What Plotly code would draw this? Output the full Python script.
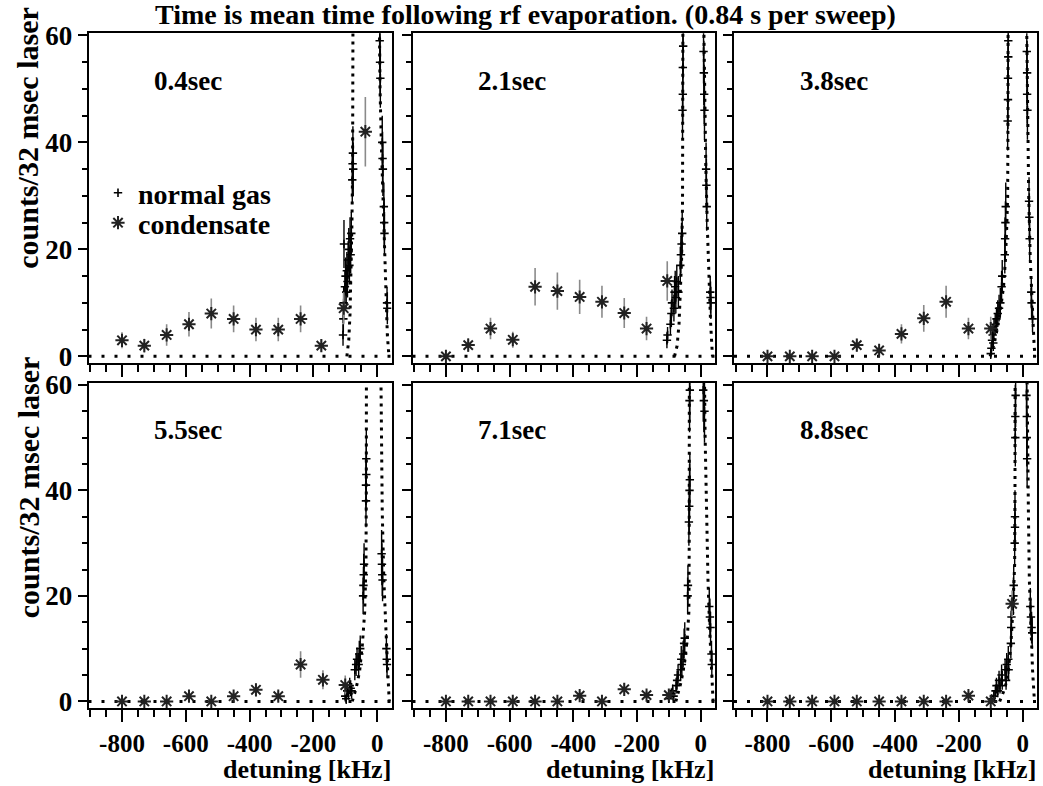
import plotly.graph_objects as go

# ---------------------------------------------------------------------------
# Data: detuning [kHz], counts/32 msec laser, one-sigma errors
# ---------------------------------------------------------------------------
panel_labels = ["0.4sec", "2.1sec", "3.8sec", "5.5sec", "7.1sec", "8.8sec"]

# --- 0.4 sec ---
cond_x_1 = [-800, -730, -660, -590, -520, -450, -380, -310, -240, -175, -105, -37]
cond_y_1 = [3, 2, 4, 6, 8, 7, 5, 5, 7, 2, 9, 42]
cond_e_1 = [1.5, 1.3, 2, 2.3, 2.8, 2.5, 2.2, 2.2, 2.5, 1.2, 3, 6.5]
gas_x_1 = [-107, -106, -105, -104, -101, -99, -97, -95, -93, -91, -89, -87, -85, -83, -81,
           -78, -77, -76, -75, 8, 9, 10, 16, 17, 18, 21, 22, 23, 31, 32]
gas_y_1 = [4, 7, 10, 21, 13, 15, 12, 16, 14, 18, 20, 17, 22, 19, 23,
           33, 36, 38, 35, 59, 55, 52, 40, 37, 35, 28, 25, 23, 10, 9]
gas_e_1 = [2, 2.5, 3, 4.5, 3, 3.5, 3, 3.5, 3, 3.5, 4, 3.5, 4, 3.5, 4,
           4.5, 5, 5, 5, 6, 6, 5.5, 5, 5, 5, 4.5, 4.5, 4, 3, 3]
fit_x_1 = [-95, -89, -85, -82, -79, -77, -76, -75.5, 6, 9, 14, 19, 24, 28, 32, 37]
fit_y_1 = [0, 3, 8, 15, 25, 35, 48, 70, 70, 50, 38, 28, 18, 10, 4, 0]

# --- 2.1 sec ---
cond_x_2 = [-800, -730, -660, -590, -520, -450, -380, -310, -240, -170, -105]
cond_y_2 = [0, 2.1, 5.2, 3.1, 13, 12.2, 11.1, 10.2, 8.1, 5.2, 14.1]
cond_e_2 = [0.5, 1.3, 2, 1.5, 3.5, 3.5, 3.2, 3, 2.8, 2.2, 3.7]
gas_x_2 = [-106, -104, -95, -92, -90, -84, -82, -80, -78, -75, -70, -64, -62, -60, -58,
           -57, -56, -56, -55, 9, 10, 11, 12, 17, 18, 19, 30, 31, 32]
gas_y_2 = [3, 4, 6, 8, 10, 9, 12, 13, 11, 14, 12, 17, 19, 21, 23,
           46, 49, 54, 58, 57, 53, 49, 46, 35, 32, 28, 12, 11, 10]
gas_e_2 = [1.5, 1.5, 2, 2.5, 2.5, 2.5, 3, 3, 3, 3, 3, 3.5, 3.5, 4, 4,
           5.5, 5.5, 6, 6, 6, 6, 5.5, 5.5, 5, 5, 4.5, 3, 3, 3]
fit_x_2 = [-82, -74, -68, -63, -60, -57, -56, -55.5, 8, 12, 16, 21, 26, 31, 37]
fit_y_2 = [0, 2, 6, 12, 18, 28, 40, 70, 70, 48, 36, 24, 13, 6.5, 0]

# --- 3.8 sec ---
cond_x_3 = [-800, -730, -660, -590, -520, -450, -380, -310, -240, -170, -100]
cond_y_3 = [0, 0, 0, 0, 2.1, 1.1, 4.2, 7.1, 10.2, 5.2, 5.2]
cond_e_3 = [0.5, 0.5, 0.5, 0.5, 1.2, 0.8, 1.8, 2.5, 3, 2, 2.2]
gas_x_3 = [-100, -98, -96, -94, -92, -90, -86, -82, -78, -74, -70, -66, -64, -56, -55,
           -54, -53, -47, -46, -46, -45, -45, 13, 14, 14, 15, 20, 21, 22, 27, 28, 31]
gas_y_3 = [0.5, 1.5, 3, 4, 2.5, 5, 6, 7, 8, 9, 10, 13, 15, 19, 22,
           25, 28, 44, 48, 52, 56, 59, 57, 53, 49, 46, 29, 26, 22, 12, 10, 7]
gas_e_3 = [1, 1.2, 1.5, 1.8, 1.5, 2, 2, 2.2, 2.5, 2.5, 2.8, 3, 3, 3.5, 4,
           4, 4.5, 5.5, 5.5, 6, 6, 6, 6, 6, 5.5, 5.5, 4.5, 4.5, 4, 3, 3, 2.5]
fit_x_3 = [-102, -91, -80, -70, -60, -54, -50, -47, -46, -45.5, 11, 15, 19, 24, 31, 36, 39]
fit_y_3 = [0, 2, 5, 8.5, 13, 18, 24, 30, 45, 70, 70, 48, 30, 18, 8, 2, 0]

# --- 5.5 sec ---
cond_x_4 = [-800, -730, -660, -590, -520, -450, -380, -310, -240, -170, -100]
cond_y_4 = [0, 0, 0, 1, 0, 1, 2.2, 1, 7, 4.1, 3.1]
cond_e_4 = [0.5, 0.5, 0.5, 0.8, 0.5, 0.8, 1.2, 1, 2.5, 1.8, 1.8]
gas_x_4 = [-100, -97, -94, -90, -86, -83, -80, -70, -66, -63, -58, -56, -53, -44, -43,
           -42, -41, -35, -35, -34, -34, 14, 15, 16, 17, 29, 30, 31]
gas_y_4 = [1, 0.5, 2, 1.5, 3, 2.5, 2, 6, 7, 8, 7, 9, 10, 20, 22,
           24, 26, 38, 41, 43, 46, 28, 26, 24, 23, 10, 8, 7]
gas_e_4 = [1, 1, 1.2, 1.2, 1.5, 1.5, 1.5, 2, 2.2, 2.2, 2.2, 2.5, 2.5, 3.5, 3.5,
           4, 4, 5, 5, 5.5, 5.5, 4.5, 4, 4, 4, 2.8, 2.5, 2.5]
fit_x_4 = [-78, -65.5, -55, -46.5, -39, -35, -34, -33.5, 10.5, 13, 16, 21, 26.4, 33, 38]
fit_y_4 = [0, 2.6, 5.7, 10.7, 17, 26, 40, 70, 70, 50, 36, 23, 14, 6, 0]

# --- 7.1 sec ---
cond_x_5 = [-800, -730, -660, -590, -520, -450, -380, -310, -240, -170, -100]
cond_y_5 = [0, 0, 0, 0, 0, 0, 1.1, 0, 2.3, 1.2, 1.2]
cond_e_5 = [0.5, 0.5, 0.5, 0.5, 0.5, 0.5, 0.8, 0.5, 1.2, 0.8, 1]
gas_x_5 = [-100, -92, -88, -85, -77, -74, -71, -63, -61, -59, -55, -52, -50, -41, -40,
           -37, -36, -35, -34, -35, -34, 8, 10, 12, 27, 29, 31, 34, 35]
gas_y_5 = [0.5, 1.5, 2, 1, 3, 4, 5, 6, 8, 7, 9, 11, 12, 20, 22,
           34, 37, 40, 42, 57, 59, 59, 57, 55, 18, 16, 14, 9, 7]
gas_e_5 = [0.8, 1, 1.2, 1, 1.5, 1.8, 2, 2, 2.5, 2.2, 2.5, 2.8, 3, 3.5, 3.8,
           4.5, 5, 5, 5, 6, 6, 6, 6, 6, 3.5, 3.5, 3, 2.5, 2.5]
fit_x_5 = [-78, -61, -50, -42, -37, -36, -35.5, 10.5, 14, 18, 23, 28, 33.6, 39]
fit_y_5 = [0, 3.8, 7.6, 12, 17, 30, 70, 70, 50, 36, 23, 14, 7.6, 0]

# --- 8.8 sec ---
cond_x_6 = [-800, -730, -660, -590, -520, -450, -380, -310, -240, -170, -100, -33]
cond_y_6 = [0, 0, 0, 0, 0, 0, 0, 0, 0, 1.1, 0, 18.5]
cond_e_6 = [0.5, 0.5, 0.5, 0.5, 0.5, 0.5, 0.5, 0.5, 0.5, 0.8, 0.5, 2.5]
gas_x_6 = [-97, -90, -85, -82, -78, -74, -71, -66, -64, -55, -52, -50, -45, -44, -37,
           -36, -35, -29, -28, -25, -24, -24, -23, -23, -22, 12, 13, 13, 14, 24, 26, 28, 30]
gas_y_6 = [0.5, 1, 2, 3, 2, 4, 3, 5, 4, 6, 4, 7, 8, 6, 11,
           14, 16, 20, 22, 30, 33, 35, 50, 54, 58, 58, 54, 50, 46, 18, 16, 14, 13]
gas_e_6 = [0.8, 1, 1.2, 1.5, 1.2, 1.8, 1.5, 2, 1.8, 2, 1.8, 2.2, 2.5, 2, 2.8,
           3.2, 3.5, 3.5, 3.8, 4.5, 4.5, 5, 5.5, 6, 6, 6, 6, 5.5, 5.5, 3.5, 3.5, 3, 3]
fit_x_6 = [-72, -55, -45, -37, -31, -25, -24, -23.5, 12.5, 15, 18, 21, 26, 31, 37]
fit_y_6 = [0, 2.6, 5.7, 10.7, 17, 26, 40, 70, 70, 50, 36, 23, 14, 6, 0]

x_ticks = [-800, -600, -400, -200, 0]
y_ticks = [0, 20, 40, 60]

panels = [
    (cond_x_1, cond_y_1, cond_e_1, gas_x_1, gas_y_1, gas_e_1, fit_x_1, fit_y_1),
    (cond_x_2, cond_y_2, cond_e_2, gas_x_2, gas_y_2, gas_e_2, fit_x_2, fit_y_2),
    (cond_x_3, cond_y_3, cond_e_3, gas_x_3, gas_y_3, gas_e_3, fit_x_3, fit_y_3),
    (cond_x_4, cond_y_4, cond_e_4, gas_x_4, gas_y_4, gas_e_4, fit_x_4, fit_y_4),
    (cond_x_5, cond_y_5, cond_e_5, gas_x_5, gas_y_5, gas_e_5, fit_x_5, fit_y_5),
    (cond_x_6, cond_y_6, cond_e_6, gas_x_6, gas_y_6, gas_e_6, fit_x_6, fit_y_6),
]

# ---------------------------------------------------------------------------
# Figure geometry (pixels) and styles
# ---------------------------------------------------------------------------
W, H = 1043, 786
FONT = "Liberation Serif, Times New Roman, serif"
col_px = [(88.5, 391.5), (412.5, 715.0), (734.0, 1037.0)]
row_px = [(33.3, 363.3), (382.7, 708.3)]
X_RANGE = [-905, 45]
Y_RANGE = [-1.3, 60.4]

fig = go.Figure()
legend_common = dict(xanchor="left", yanchor="middle", bgcolor="rgba(0,0,0,0)",
                     font=dict(family=FONT, size=28, color="black", weight="bold"))
layout = dict(
    width=W, height=H,
    margin=dict(l=0, r=0, t=0, b=0, autoexpand=False),
    paper_bgcolor="white", plot_bgcolor="white",
    font=dict(family=FONT, color="black", size=26, weight="bold"),
    showlegend=True,
    legend=dict(legend_common, x=98 / W, y=1 - 193 / H),
    legend2=dict(legend_common, x=98 / W, y=1 - 223 / H),
)
annotations = []
shapes = []

for i, (cx, cy, ce, gx, gy, ge, fx, fy) in enumerate(panels):
    r, c = divmod(i, 3)
    n = i + 1
    xa = "x" if n == 1 else f"x{n}"
    ya = "y" if n == 1 else f"y{n}"
    xd = [col_px[c][0] / W, col_px[c][1] / W]
    yd = [1 - row_px[r][1] / H, 1 - row_px[r][0] / H]

    # dotted zero level across the panel
    shapes.append(dict(type="line", xref=f"{xa} domain", yref=ya, x0=0, x1=1, y0=0, y1=0,
                       line=dict(color="black", width=3, dash="3px,10px"), layer="below"))
    # fitted line shape, dotted
    fig.add_trace(go.Scatter(
        x=fx, y=fy, xaxis=xa, yaxis=ya, mode="lines", showlegend=False,
        line=dict(color="black", width=3, dash="3px,5px"), hoverinfo="skip"))
    # normal gas
    fig.add_trace(go.Scatter(
        x=gx, y=gy, xaxis=xa, yaxis=ya, mode="markers", name="normal gas",
        showlegend=(i == 0), legend="legend",
        marker=dict(symbol="cross-thin-open", size=6, color="black",
                    line=dict(color="black", width=1.6)),
        error_y=dict(type="data", array=ge, color="black", thickness=1.4, width=0)))
    # condensate
    fig.add_trace(go.Scatter(
        x=cx, y=cy, xaxis=xa, yaxis=ya, mode="markers", name="condensate",
        showlegend=(i == 0), legend="legend2",
        marker=dict(symbol="asterisk-open", size=11, color="#222",
                    line=dict(color="#222", width=2)),
        error_y=dict(type="data", array=ce, color="#8a8a8a", thickness=1.6, width=0)))

    axis_common = dict(showline=True, linecolor="black", linewidth=1.5, mirror=True,
                       showgrid=False, zeroline=False, ticks="outside", automargin=False,
                       tickcolor="black", tickwidth=1.5)
    layout["xaxis" if n == 1 else f"xaxis{n}"] = dict(
        axis_common, domain=xd, anchor=ya, range=X_RANGE,
        tickmode="array", tickvals=x_ticks, ticktext=[str(v) for v in x_ticks],
        ticklen=12, showticklabels=(r == 1),
        tickfont=dict(family=FONT, size=25, color="black", weight="bold"),
        minor=dict(dtick=50, tick0=0, ticks="outside", ticklen=7,
                   tickcolor="black", tickwidth=1.5))
    layout["yaxis" if n == 1 else f"yaxis{n}"] = dict(
        axis_common, domain=yd, anchor=xa, range=Y_RANGE,
        tickmode="array", tickvals=y_ticks, ticktext=[str(v) for v in y_ticks],
        ticklen=9, showticklabels=(c == 0),
        tickfont=dict(family=FONT, size=27, color="black", weight="bold"),
        minor=dict(dtick=5, tick0=0, ticks="outside", ticklen=5,
                   tickcolor="black", tickwidth=1.5))

    # time stamp in each panel
    annotations.append(dict(
        x=-705, y=51.5, xref=xa, yref=ya, xanchor="left", yanchor="middle",
        text=panel_labels[i], showarrow=False,
        font=dict(family=FONT, size=27, color="black", weight="bold")))

    if r == 1:
        annotations.append(dict(
            x=col_px[c][1] / W, y=1 - 769 / H, xref="paper", yref="paper",
            xanchor="right", yanchor="middle", text="detuning [kHz]", showarrow=False,
            borderpad=0, font=dict(family=FONT, size=26, color="black", weight="bold")))

for r in range(2):
    annotations.append(dict(
        x=28 / W, y=1 - (row_px[r][0] + 104.5) / H, xref="paper", yref="paper",
        xanchor="center", yanchor="middle", textangle=-90,
        text="counts/32 msec laser", showarrow=False,
        font=dict(family=FONT, size=30, color="black", weight="bold")))

annotations.append(dict(
    x=525.5 / W, y=1 - 15 / H, xref="paper", yref="paper", xanchor="center",
    yanchor="middle", text="Time is mean time following rf evaporation. (0.84 s per sweep)",
    showarrow=False, borderpad=0,
    font=dict(family=FONT, size=28, color="black", weight="bold")))

layout["annotations"] = annotations
layout["shapes"] = shapes
fig.update_layout(**layout)
fig.write_html("out.html")
